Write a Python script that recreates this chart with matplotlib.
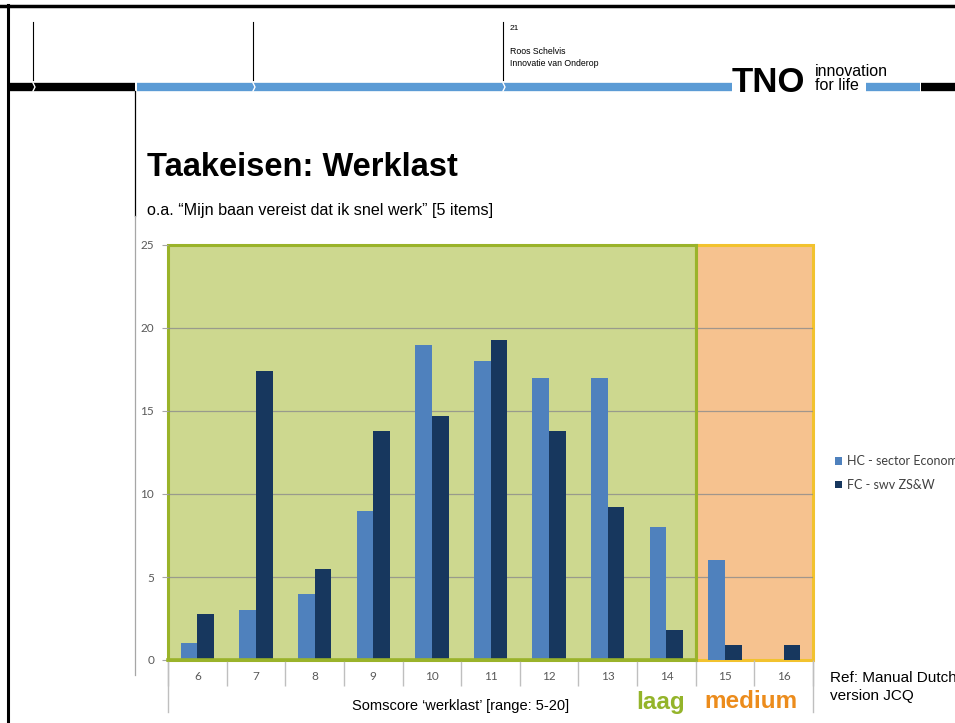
import matplotlib.pyplot as plt
from matplotlib.patches import Rectangle
import numpy as np

# data
scores = ["6", "7", "8", "9", "10", "11", "12", "13", "14", "15", "16"]
hc_values = [1, 3, 4, 9, 19, 18, 17, 17, 8, 6, 0]
fc_values = [2.8, 17.4, 5.5, 13.8, 14.7, 19.3, 13.8, 9.2, 1.8, 0.9, 0.9]
series_names = ["HC - sector Economie", "FC - swv ZS&W"]
laag_count = 9  # scores 6..14 fall in 'laag'

blauw = "#4F81BD"
donker = "#17375E"
groen_vlak = "#CDD88F"
groen_rand = "#9AB32A"
oranje_vlak = "#F6C28F"
oranje_rand = "#F2C22E"
grijs = "#595959"

fig = plt.figure(figsize=(9.55, 7.23), dpi=100)

# slide background in pixel coordinates
bg = fig.add_axes([0, 0, 1, 1])
bg.set_xlim(0, 955)
bg.set_ylim(723, 0)
bg.axis("off")

# frame
bg.plot([0, 955], [6, 6], color="black", lw=2.5)
bg.plot([8, 8], [5, 723], color="black", lw=2.2)

# header bar
bg.plot([8, 135], [87, 87], color="black", lw=6, solid_capstyle="butt")
bg.plot([137, 732], [87, 87], color="#5B9BD5", lw=6, solid_capstyle="butt")
bg.plot([866, 920], [87, 87], color="#5B9BD5", lw=6, solid_capstyle="butt")
bg.plot([921, 955], [87, 87], color="black", lw=6, solid_capstyle="butt")
for xs in [33, 253, 503]:
    bg.plot([xs, xs], [22, 80], color="black", lw=0.8)
    bg.plot([xs, xs + 2, xs], [83, 87, 91], color="white", lw=1)
bg.plot([135, 135], [91, 216], color="black", lw=0.9)
bg.plot([135, 135], [216, 675], color="#A6A6A6", lw=0.9)

bg.text(510, 28, "21", fontsize=6, family="Liberation Sans", va="center")
bg.text(510, 52, "Roos Schelvis", fontsize=6.3, family="Liberation Sans", va="center")
bg.text(510, 63, "Innovatie van Onderop", fontsize=6.3, family="Liberation Sans", va="center")

# TNO logo (text approximation)
bg.text(732, 92, "TNO", fontsize=25, fontweight="heavy", family="Liberation Sans",
        va="baseline", ha="left")
bg.text(815, 76, "innovation", fontsize=11.5, family="Liberation Sans", va="baseline")
bg.text(815, 90, "for life", fontsize=11.5, family="Liberation Sans", va="baseline")

# titles
bg.text(147, 168, "Taakeisen: Werklast", fontsize=23.5, fontweight="bold",
        family="Liberation Sans", va="center")
bg.text(147, 210, "o.a. \u201cMijn baan vereist dat ik snel werk\u201d [5 items]", fontsize=11.6,
        family="Liberation Sans", va="center")

# chart
ax = fig.add_axes([168 / 955, 1 - 660 / 723, 645 / 955, 415 / 723])
ax.set_facecolor("none")
x = np.arange(len(scores))
w = 0.285

ax.add_patch(Rectangle((-0.5, 0), laag_count, 25, facecolor=groen_vlak,
                       edgecolor=groen_rand, lw=2.2, zorder=0, clip_on=False))
ax.add_patch(Rectangle((laag_count - 0.5, 0), len(scores) - laag_count, 25,
                       facecolor=oranje_vlak, edgecolor=oranje_rand, lw=2.2,
                       zorder=0, clip_on=False))
for yv in [5, 10, 15, 20]:
    ax.axhline(yv, color="#8C8C8C", lw=0.9, alpha=0.8, zorder=1)
# green border over the orange one on the shared edge
ax.plot([laag_count - 0.5] * 2, [0, 25], color=groen_rand, lw=2.2, zorder=1.5, clip_on=False)
ax.plot([-0.5, laag_count - 0.5], [0, 0], color=groen_rand, lw=2.6, zorder=3, clip_on=False)

b1 = ax.bar(x - w / 2, hc_values, w, color=blauw, zorder=2, label=series_names[0])
b2 = ax.bar(x + w / 2, fc_values, w, color=donker, zorder=2, label=series_names[1])

ax.set_xlim(-0.5, len(scores) - 0.5)
ax.set_ylim(0, 25)
for s in ax.spines.values():
    s.set_visible(False)

ax.set_xticks(x)
ax.set_xticklabels(scores, family="Lato", fontsize=8.5, color=grijs)
ax.set_xticks(np.arange(-0.5, len(scores), 1), minor=True)
ax.tick_params(axis="x", which="major", length=0, pad=8)
ax.tick_params(axis="x", which="minor", length=19, color="#BFBFBF", width=1)
ax.set_yticks(range(0, 26, 5))
ax.set_yticklabels([str(v) for v in range(0, 26, 5)], family="Lato", fontsize=8.5, color=grijs)
ax.tick_params(axis="y", length=4, color="#A6A6A6", pad=6)

bg.plot([168, 168], [662, 712], color="#BFBFBF", lw=1)
bg.plot([813, 813], [662, 712], color="#BFBFBF", lw=1)

fig.legend(handles=[b1, b2], loc="upper left", bbox_to_anchor=(824 / 955, 1 - 444 / 723),
           frameon=False, prop={"family": "Lato", "size": 9}, handlelength=0.55,
           handleheight=0.55, handletextpad=0.35, labelspacing=0.95, labelcolor="#404040")

bg.text(461, 706, "Somscore \u2018werklast\u2019 [range: 5-20]", fontsize=10.5,
        family="Liberation Sans", ha="center", va="center")
bg.text(661, 702, "laag", fontsize=17.5, fontweight="bold", family="Liberation Sans",
        color="#94B42A", ha="center", va="center")
bg.text(751, 702, "medium", fontsize=17.5, fontweight="bold", family="Liberation Sans",
        color="#EC8C1C", ha="center", va="center")
bg.text(830, 678, "Ref: Manual Dutch", fontsize=11, family="Liberation Sans", va="center")
bg.text(830, 696, "version JCQ", fontsize=11, family="Liberation Sans", va="center")

fig.savefig("out.png", dpi=100)
